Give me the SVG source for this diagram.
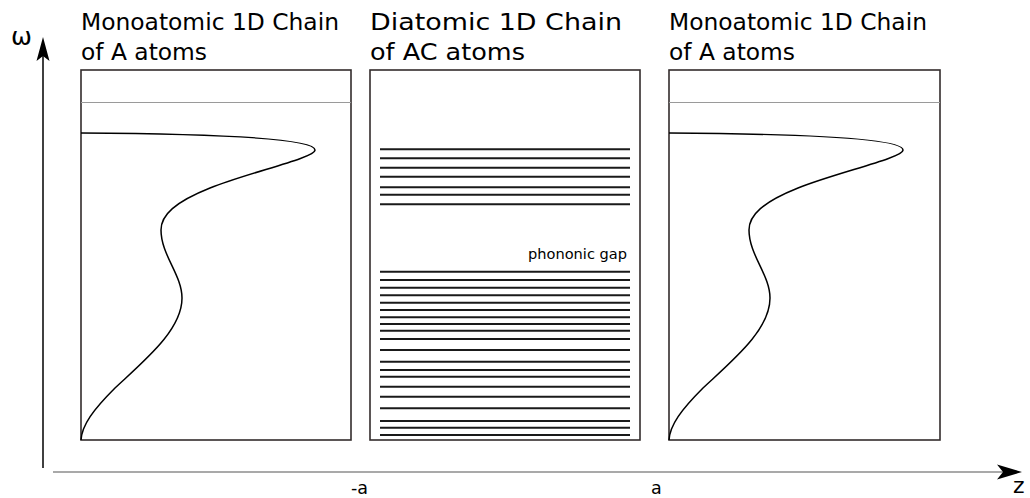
<svg xmlns="http://www.w3.org/2000/svg" width="1030" height="498" viewBox="0 0 1030 498">
  <style>
    .title { font-family: "DejaVu Sans", sans-serif; font-size: 22.5px; fill: #000; }
    .label { font-family: "DejaVu Sans", sans-serif; fill: #000; }
    .frame { fill: #fff; stroke: #332c2c; stroke-width: 1.6; }
    .cutoff { stroke: #9a9a9a; stroke-width: 1; }
    .dispersion { fill: none; stroke: #000; stroke-width: 1.5; }
    .level { stroke: #1a1a1a; stroke-width: 2; }
  </style>
  <defs>
    <path id="dos-curve" class="dispersion" d="M81,133 C240,134 315,140 315,150 C315,158 250,172 210,188 C175,202 161,215 161,230 C161,255 182,275 182,298 C182,330 145,360 115,388 C93,410 82,425 81,440"/>
  </defs>

  <rect width="1030" height="498" fill="#fff"/>

  <!-- axes -->
  <g id="connectors">
    <line x1="43" y1="52" x2="43" y2="468" stroke="#000" stroke-width="1.5"/>
    <path d="M43,37 L49.5,61 L43,56 L36.5,61 Z" fill="#000"/>
    <line x1="53" y1="472" x2="1004" y2="472" stroke="#8c8c8c" stroke-width="1.5"/>
    <path d="M1022,472 L997,479.5 L1003,472 L997,464.5 Z" fill="#000"/>
  </g>

  <g id="axis-labels">
    <text class="label" x="11" y="45" font-size="25">ω</text>
    <text class="label" x="1013" y="493" font-size="22">z</text>
    <text class="label" x="351" y="494" font-size="17.5">-a</text>
    <text class="label" x="651" y="494" font-size="17.5">a</text>
  </g>

  <!-- left chain -->
  <g id="mono-left">
    <text class="title" x="81" y="30" textLength="258" lengthAdjust="spacingAndGlyphs">Monoatomic 1D Chain</text>
    <text class="title" x="81" y="60" textLength="126" lengthAdjust="spacingAndGlyphs">of A atoms</text>
    <rect class="frame" x="81" y="70" width="270" height="370"/>
    <line class="cutoff" x1="81" y1="102.5" x2="351" y2="102.5"/>
    <use href="#dos-curve"/>
  </g>

  <!-- diatomic chain -->
  <g id="diatomic">
    <text class="title" x="370" y="30" textLength="252" lengthAdjust="spacingAndGlyphs">Diatomic 1D Chain</text>
    <text class="title" x="370" y="60" textLength="155" lengthAdjust="spacingAndGlyphs">of AC atoms</text>
    <rect class="frame" x="370" y="70" width="270" height="370"/>
    <g id="optical-branch">
      <line class="level" x1="380" x2="630" y1="149.3" y2="149.3"/>
      <line class="level" x1="380" x2="630" y1="158.3" y2="158.3"/>
      <line class="level" x1="380" x2="630" y1="167.7" y2="167.7"/>
      <line class="level" x1="380" x2="630" y1="176.7" y2="176.7"/>
      <line class="level" x1="380" x2="630" y1="187.3" y2="187.3"/>
      <line class="level" x1="380" x2="630" y1="194.7" y2="194.7"/>
      <line class="level" x1="380" x2="630" y1="204.3" y2="204.3"/>
    </g>
    <text class="label" x="528" y="259" font-size="13.5" textLength="99" lengthAdjust="spacingAndGlyphs">phononic gap</text>
    <g id="acoustic-branch">
      <line class="level" x1="380" x2="630" y1="271.7" y2="271.7"/>
      <line class="level" x1="380" x2="630" y1="280" y2="280"/>
      <line class="level" x1="380" x2="630" y1="287.7" y2="287.7"/>
      <line class="level" x1="380" x2="630" y1="295.3" y2="295.3"/>
      <line class="level" x1="380" x2="630" y1="302.7" y2="302.7"/>
      <line class="level" x1="380" x2="630" y1="310" y2="310"/>
      <line class="level" x1="380" x2="630" y1="317.3" y2="317.3"/>
      <line class="level" x1="380" x2="630" y1="324" y2="324"/>
      <line class="level" x1="380" x2="630" y1="330.7" y2="330.7"/>
      <line class="level" x1="380" x2="630" y1="339" y2="339"/>
      <line class="level" x1="380" x2="630" y1="350" y2="350"/>
      <line class="level" x1="380" x2="630" y1="361.7" y2="361.7"/>
      <line class="level" x1="380" x2="630" y1="370" y2="370"/>
      <line class="level" x1="380" x2="630" y1="376.7" y2="376.7"/>
      <line class="level" x1="380" x2="630" y1="386.7" y2="386.7"/>
      <line class="level" x1="380" x2="630" y1="396.7" y2="396.7"/>
      <line class="level" x1="380" x2="630" y1="408.3" y2="408.3"/>
      <line class="level" x1="380" x2="630" y1="421" y2="421"/>
      <line class="level" x1="380" x2="630" y1="427.7" y2="427.7"/>
      <line class="level" x1="380" x2="630" y1="435" y2="435"/>
    </g>
  </g>

  <!-- right chain -->
  <g id="mono-right">
    <text class="title" x="669" y="30" textLength="258" lengthAdjust="spacingAndGlyphs">Monoatomic 1D Chain</text>
    <text class="title" x="669" y="60" textLength="126" lengthAdjust="spacingAndGlyphs">of A atoms</text>
    <rect class="frame" x="669" y="70" width="271" height="370"/>
    <line class="cutoff" x1="669" y1="102.5" x2="940" y2="102.5"/>
    <use href="#dos-curve" transform="translate(588,0)"/>
  </g>
</svg>
